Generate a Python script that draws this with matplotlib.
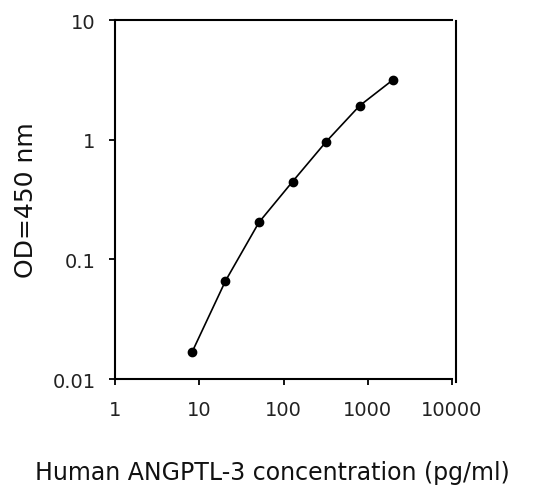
import matplotlib
matplotlib.use("Agg")
import matplotlib.pyplot as plt
from matplotlib.lines import Line2D
from matplotlib.ticker import FixedLocator, FixedFormatter, NullLocator

# Data
concentration = [8.19, 20.48, 51.2, 128, 320, 800, 2000]
od450 = [0.0167, 0.066, 0.204, 0.446, 0.96, 1.92, 3.17]

x_ticks = [1, 10, 100, 1000, 10000]
x_tick_labels = ["1", "10", "100", "1000", "10000"]
y_ticks = [0.01, 0.1, 1, 10]
y_tick_labels = ["0.01", "0.1", "1", "10"]

x_label = "Human ANGPTL-3 concentration (pg/ml)"
y_label = "OD=450 nm"

plt.rcParams['font.family'] = ['DejaVu Sans']

W, H = 546, 489
fig = plt.figure(figsize=(W / 100, H / 100), dpi=100)
ax = fig.add_axes([115 / W, (H - 380) / H, (452 - 115) / W, (380 - 21) / H])

ax.plot(concentration, od450, color="black", linewidth=1.2,
        marker="o", markersize=6, markerfacecolor="black",
        markeredgecolor="black")

ax.set_xscale("log")
ax.set_yscale("log")
ax.set_xlim(1, 10000)
ax.set_ylim(0.01, 10)

ax.xaxis.set_major_locator(FixedLocator(x_ticks))
ax.xaxis.set_major_formatter(FixedFormatter(x_tick_labels))
ax.xaxis.set_minor_locator(NullLocator())
ax.yaxis.set_major_locator(FixedLocator(y_ticks))
ax.yaxis.set_major_formatter(FixedFormatter(y_tick_labels))
ax.yaxis.set_minor_locator(NullLocator())

ax.tick_params(axis="both", which="major", direction="out", length=4,
               width=1.3, color="black", labelsize=14, labelcolor="#222222")
ax.tick_params(axis="x", pad=11)
ax.tick_params(axis="y", pad=10)

for side in ["left", "bottom", "top"]:
    ax.spines[side].set_linewidth(1.5)
    ax.spines[side].set_color("black")
ax.spines["right"].set_visible(False)

# right border line, offset slightly to the right of the plot area
ax.add_line(Line2D([1.012, 1.012], [-0.008, 0.997], transform=ax.transAxes,
                   color="black", linewidth=1.5, clip_on=False))

fig.text(272 / W, 1 - 480 / H, x_label, ha="center", va="baseline",
         fontsize=17, color="#111111")
fig.text(33 / W, 1 - 200 / H, y_label, ha="center", va="baseline",
         rotation=90, fontsize=18, color="#111111", rotation_mode="anchor")

fig.savefig("out.png", dpi=100)
